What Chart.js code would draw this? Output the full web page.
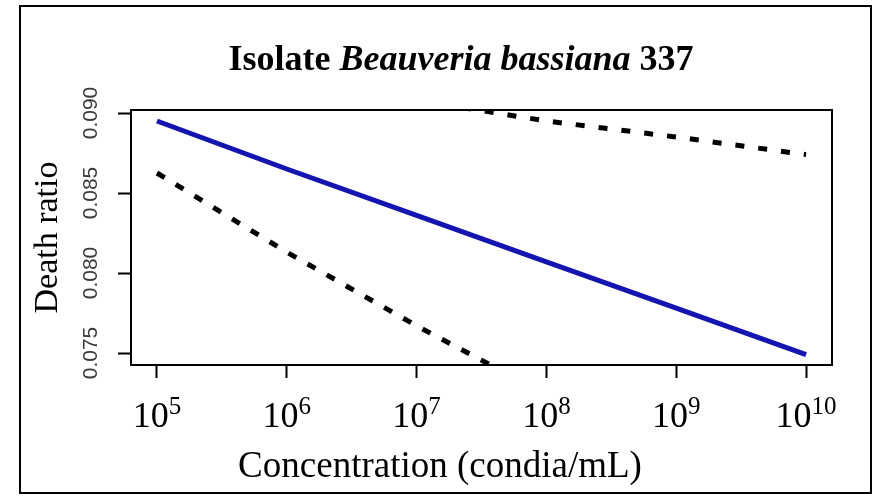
<!DOCTYPE html>
<html>
<head>
<meta charset="utf-8">
<script src="https://cdn.jsdelivr.net/npm/chart.js@4.4.1/dist/chart.umd.min.js"></script>
<style>
  html, body { margin: 0; padding: 0; background: #fff; }
  #wrap { width: 875px; height: 497px; }
</style>
</head>
<body>
<div id="wrap"><canvas id="chart" width="875" height="497"></canvas></div>
<script>
// Dose-response fit for isolate 337 with its confidence band
const EXPONENTS = [5, 6, 7, 8, 9, 10];
const CONC = [1e5, 1e6, 1e7, 1e8, 1e9, 1e10];
const FITTED = [0.0895, 0.0865, 0.0836, 0.0807, 0.0778, 0.0749];
const LOWER = [0.08625, 0.0813, 0.0767, 0.0724, null, null];
const UPPER = [null, null, 0.0908, 0.0895, 0.0885, 0.0874];
const Y_TICKS = [0.075, 0.080, 0.085, 0.090];

const SERIF = "'Liberation Serif', 'Times New Roman', serif";
const SANS = "'Liberation Sans', Arial, sans-serif";

const pts = arr => CONC.map((x, i) => ({ x, y: arr[i] }));

// box, outer frame and all the text R-style
const decorations = {
  id: "decorations",
  afterDraw(chart) {
    const { ctx, chartArea: a, scales } = chart;
    ctx.save();

    ctx.strokeStyle = "#000";
    ctx.lineWidth = 2;
    ctx.strokeRect(a.left, a.top, a.right - a.left, a.bottom - a.top);
    ctx.strokeRect(20, 6, 851, 487);

    ctx.fillStyle = "#000";
    ctx.textBaseline = "alphabetic";

    // title with italic species name
    const parts = [
      ["bold 36px " + SERIF, "Isolate "],
      ["italic bold 36px " + SERIF, "Beauveria bassiana"],
      ["bold 36px " + SERIF, " 337"],
    ];
    let total = 0;
    for (const [f, t] of parts) { ctx.font = f; total += ctx.measureText(t).width; }
    let tx = 461 - total / 2;
    for (const [f, t] of parts) {
      ctx.font = f; ctx.textAlign = "left";
      ctx.fillText(t, tx, 70);
      tx += ctx.measureText(t).width;
    }

    // x tick labels as 10^n
    const xs = scales.x;
    EXPONENTS.forEach((e, i) => {
      const px = xs.getPixelForValue(CONC[i]);
      ctx.font = "36px " + SERIF;
      const wb = ctx.measureText("10").width;
      ctx.font = "25px " + SERIF;
      const we = ctx.measureText(String(e)).width;
      const x0 = px - (wb + we) / 2;
      ctx.textAlign = "left";
      ctx.font = "36px " + SERIF;
      ctx.fillText("10", x0, 427);
      ctx.font = "25px " + SERIF;
      ctx.fillText(String(e), x0 + wb, 414);
    });

    // y tick labels, rotated
    const ys = scales.y;
    ctx.fillStyle = "#3a3a3a";
    ctx.font = "21px " + SANS;
    ctx.textAlign = "center";
    ctx.textBaseline = "middle";
    for (const v of Y_TICKS) {
      ctx.save();
      ctx.translate(91, ys.getPixelForValue(v));
      ctx.rotate(-Math.PI / 2);
      ctx.fillText(v.toFixed(3), 0, 0);
      ctx.restore();
    }

    // axis titles
    ctx.fillStyle = "#000";
    ctx.font = "34px " + SERIF;
    ctx.save();
    ctx.translate(48, (a.top + a.bottom) / 2);
    ctx.rotate(-Math.PI / 2);
    ctx.fillText("Death ratio", 0, 0);
    ctx.restore();

    ctx.textBaseline = "alphabetic";
    ctx.font = "37px " + SERIF;
    ctx.fillText("Concentration (condia/mL)", 440, 477);

    ctx.restore();
  }
};

const lineDefaults = { pointRadius: 0, borderWidth: 5, tension: 0, clip: 0, fill: false };

new Chart(document.getElementById("chart"), {
  type: "line",
  data: {
    datasets: [
      { ...lineDefaults, label: "upper", data: pts(UPPER), borderColor: "#000", borderDash: [9, 14] },
      { ...lineDefaults, label: "lower", data: pts(LOWER), borderColor: "#000", borderDash: [9, 13] },
      { ...lineDefaults, label: "fit", data: pts(FITTED), borderColor: "#1414b0" },
    ]
  },
  options: {
    responsive: false,
    animation: false,
    layout: { padding: { top: 110, right: 43, bottom: 0, left: 0 } },
    plugins: { legend: { display: false }, tooltip: { enabled: false }, title: { display: false } },
    scales: {
      x: {
        type: "logarithmic",
        min: Math.pow(10, 4.8),
        max: Math.pow(10, 10.2),
        afterBuildTicks: s => { s.ticks = CONC.map(v => ({ value: v })); },
        afterFit: s => { s.height = 132; },
        ticks: { display: false },
        grid: { drawOnChartArea: false, drawTicks: true, tickLength: 13, tickColor: "#000", tickWidth: 2 },
        border: { display: true, color: "#000", width: 2 },
      },
      y: {
        type: "linear",
        min: 0.07425,
        max: 0.090188,
        afterBuildTicks: s => { s.ticks = Y_TICKS.map(v => ({ value: v })); },
        afterFit: s => { s.width = 131; },
        ticks: { display: false },
        grid: { drawOnChartArea: false, drawTicks: true, tickLength: 13, tickColor: "#000", tickWidth: 2 },
        border: { display: true, color: "#000", width: 2 },
      }
    }
  },
  plugins: [decorations]
});
</script>
</body>
</html>
